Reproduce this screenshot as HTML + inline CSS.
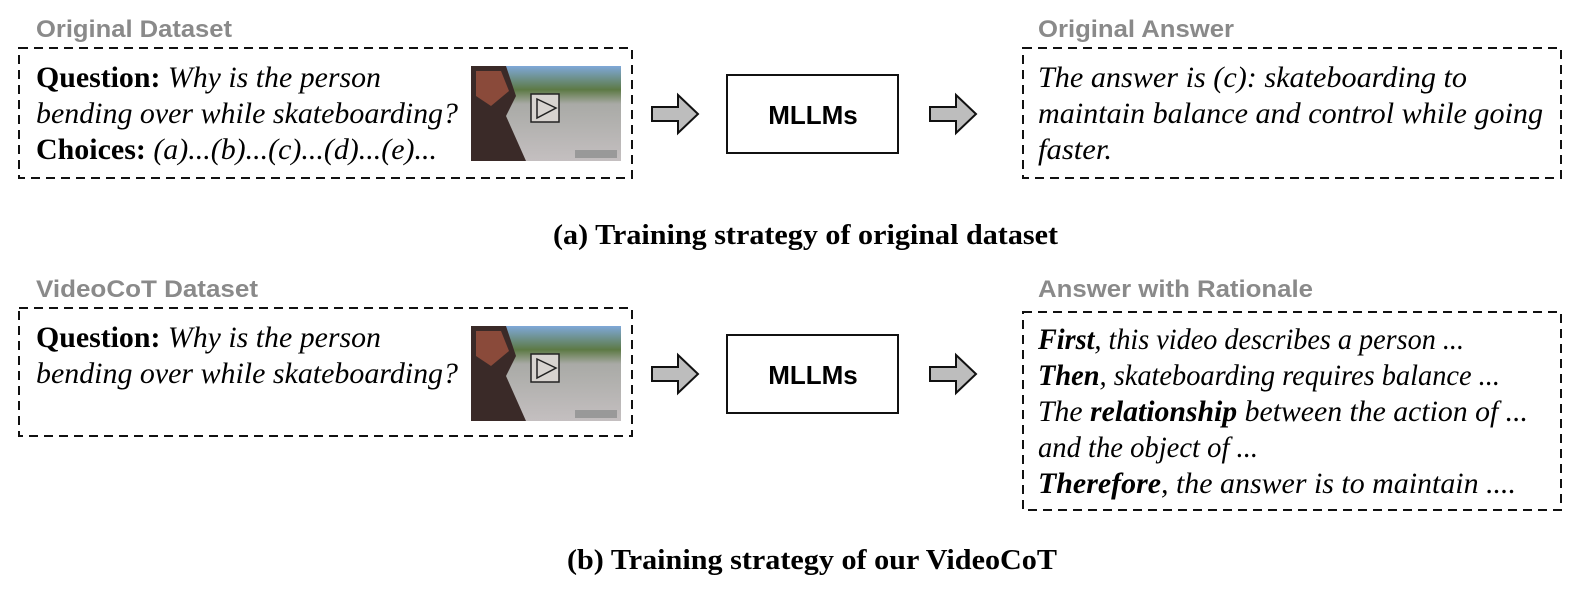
<!DOCTYPE html>
<html><head><meta charset="utf-8"><style>
html,body{margin:0;padding:0;background:#fff;}
svg{display:block}
.h{font-family:"Liberation Sans",sans-serif;font-weight:bold;font-size:24px;fill:#8a8a8a}
.t{font-family:"Liberation Serif",serif;font-size:30px;font-style:italic;fill:#000}
.b{font-style:normal;font-weight:bold}
.bi{font-weight:bold}
.cap{font-family:"Liberation Serif",serif;font-weight:bold;font-size:29px;fill:#000}
.m{font-family:"Liberation Sans",sans-serif;font-weight:bold;font-size:26px}
</style></head><body>
<svg width="1578" height="595" viewBox="0 0 1578 595" xmlns="http://www.w3.org/2000/svg">
<defs>
<linearGradient id="sky" x1="0" y1="0" x2="0" y2="1">
<stop offset="0" stop-color="#7fa8d8"/><stop offset="0.25" stop-color="#5d7a45"/><stop offset="0.4" stop-color="#a9aaa6"/><stop offset="1" stop-color="#c4bfc0"/>
</linearGradient>
<g id="vid">
<rect x="0" y="0" width="150" height="95" fill="url(#sky)"/>
<path d="M0 0 L35 0 L45 30 L35 50 L55 95 L0 95Z" fill="#3a2a28"/>
<path d="M5 5 L30 5 L38 25 L20 40 L5 30Z" fill="#8a4a3a"/>
<rect x="60" y="28" width="28" height="28" fill="#d8d4d0" stroke="#222" stroke-width="1.5"/>
<path d="M66 33 L66 52 L85 42Z" fill="none" stroke="#222" stroke-width="1.5"/>
<rect x="104" y="84" width="42" height="8" fill="#999"/>
</g>
<g id="arr"><path d="M0 12 L26 12 L26 0 L46 19 L26 38 L26 26 L0 26Z" fill="#bdbdbd" stroke="#111" stroke-width="2"/></g>
</defs>
<!-- (a) -->
<text class="h" x="36" y="37" textLength="196" lengthAdjust="spacingAndGlyphs">Original Dataset</text>
<rect x="19" y="48" width="613" height="130" fill="none" stroke="#111" stroke-width="2" stroke-dasharray="9,6"/>
<text class="t" x="36" y="87" textLength="345" lengthAdjust="spacingAndGlyphs"><tspan class="b">Question:</tspan> Why is the person</text>
<text class="t" x="36" y="123" textLength="422" lengthAdjust="spacingAndGlyphs">bending over while skateboarding?</text>
<text class="t" x="36" y="159" textLength="401" lengthAdjust="spacingAndGlyphs"><tspan class="b">Choices:</tspan> (a)...(b)...(c)...(d)...(e)...</text>
<use href="#vid" x="471" y="66"/>
<use href="#arr" x="652" y="95"/>
<rect x="727" y="75" width="171" height="78" fill="#fff" stroke="#111" stroke-width="2"/>
<text class="m" x="813" y="124" text-anchor="middle">MLLMs</text>
<use href="#arr" x="930" y="95"/>
<text class="h" x="1038" y="37" textLength="196" lengthAdjust="spacingAndGlyphs">Original Answer</text>
<rect x="1023" y="48" width="538" height="130" fill="none" stroke="#111" stroke-width="2" stroke-dasharray="9,6"/>
<text class="t" x="1038" y="87" textLength="429" lengthAdjust="spacingAndGlyphs">The answer is (c): skateboarding to</text>
<text class="t" x="1038" y="123" textLength="505" lengthAdjust="spacingAndGlyphs">maintain balance and control while going</text>
<text class="t" x="1038" y="159" textLength="74" lengthAdjust="spacingAndGlyphs">faster.</text>
<text class="cap" x="553" y="244" textLength="505" lengthAdjust="spacingAndGlyphs">(a) Training strategy of original dataset</text>
<!-- (b) -->
<text class="h" x="36" y="297" textLength="222" lengthAdjust="spacingAndGlyphs">VideoCoT Dataset</text>
<rect x="19" y="308" width="613" height="128" fill="none" stroke="#111" stroke-width="2" stroke-dasharray="9,6"/>
<text class="t" x="36" y="347" textLength="345" lengthAdjust="spacingAndGlyphs"><tspan class="b">Question:</tspan> Why is the person</text>
<text class="t" x="36" y="383" textLength="422" lengthAdjust="spacingAndGlyphs">bending over while skateboarding?</text>
<use href="#vid" x="471" y="326"/>
<use href="#arr" x="652" y="355"/>
<rect x="727" y="335" width="171" height="78" fill="#fff" stroke="#111" stroke-width="2"/>
<text class="m" x="813" y="384" text-anchor="middle">MLLMs</text>
<use href="#arr" x="930" y="355"/>
<text class="h" x="1038" y="297" textLength="275" lengthAdjust="spacingAndGlyphs">Answer with Rationale</text>
<rect x="1023" y="312" width="538" height="198" fill="none" stroke="#111" stroke-width="2" stroke-dasharray="9,6"/>
<text class="t" x="1038" y="349" textLength="426" lengthAdjust="spacingAndGlyphs"><tspan class="bi">First</tspan>, this video describes a person ...</text>
<text class="t" x="1038" y="385" textLength="462" lengthAdjust="spacingAndGlyphs"><tspan class="bi">Then</tspan>, skateboarding requires balance ...</text>
<text class="t" x="1038" y="421" textLength="490" lengthAdjust="spacingAndGlyphs">The <tspan class="bi">relationship</tspan> between the action of ...</text>
<text class="t" x="1038" y="457" textLength="220" lengthAdjust="spacingAndGlyphs">and the object of ...</text>
<text class="t" x="1038" y="493" textLength="478" lengthAdjust="spacingAndGlyphs"><tspan class="bi">Therefore</tspan>, the answer is to maintain ....</text>
<text class="cap" x="567" y="569" textLength="490" lengthAdjust="spacingAndGlyphs">(b) Training strategy of our VideoCoT</text>
</svg>
</body></html>
